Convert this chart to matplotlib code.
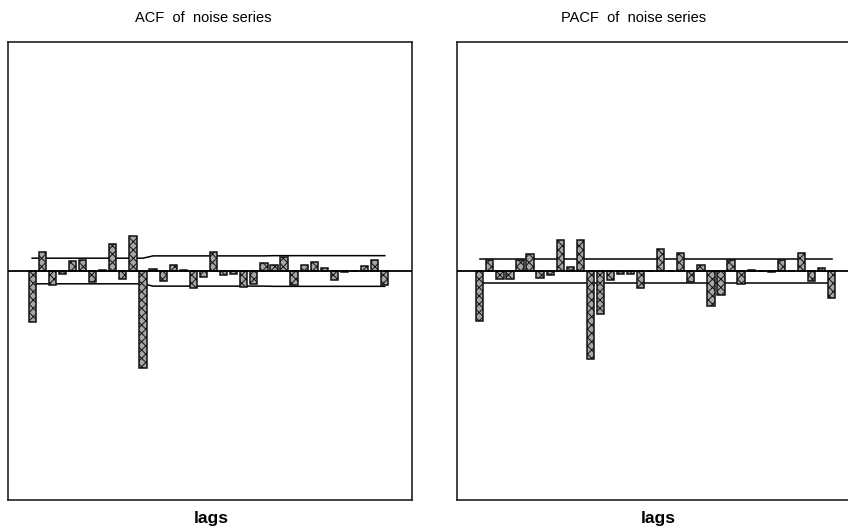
import matplotlib
matplotlib.use("Agg")
import matplotlib.pyplot as plt
import numpy as np

plt.rcParams['font.family'] = ['Liberation Sans', 'DejaVu Sans']
plt.rcParams['hatch.linewidth'] = 0.7

lags = list(range(1, 37))

acf_values = [-0.223, 0.083, -0.061, -0.013, 0.044, 0.050, -0.048, 0.004, 0.118, -0.037,
              0.153, -0.424, 0.009, -0.044, 0.026, 0.004, -0.074, -0.026, 0.083, -0.017,
              -0.015, -0.072, -0.055, 0.037, 0.028, 0.063, -0.063, 0.028, 0.039, 0.013,
              -0.041, -0.004, 0.000, 0.020, 0.050, -0.059]

acf_band = [0.056] * 12 + [0.066] * 12 + [0.067] * 12

pacf_values = [-0.218, 0.046, -0.035, -0.035, 0.048, 0.074, -0.031, -0.017, 0.135, 0.017,
               0.135, -0.384, -0.186, -0.039, -0.013, -0.011, -0.074, 0.002, 0.095, 0.002,
               0.079, -0.046, 0.028, -0.155, -0.105, 0.050, -0.055, 0.004, 0.000, -0.004,
               0.048, 0.000, 0.080, -0.042, 0.014, -0.116]

pacf_band = [0.053] * 36

titles = ["ACF  of  noise series", "PACF  of  noise series"]
xlabel = "lags"

fig = plt.figure(figsize=(8.48, 5.32), dpi=100)
W, H = 848.0, 532.0
ax1 = fig.add_axes([8 / W, 1 - 500 / H, 404 / W, 458 / H])
ax2 = fig.add_axes([457 / W, 1 - 500 / H, 404 / W, 458 / H])

def draw(ax, vals, band, xlim):
    ax.bar(lags, vals, width=0.72, facecolor='#a6a6a6', edgecolor='#111111',
           linewidth=1.1, hatch='xxxx', zorder=3)
    ax.axhline(0, color='black', linewidth=1.3, zorder=4)
    b = np.array(band)
    ax.plot(lags, b, color='black', linewidth=1.1, zorder=2)
    ax.plot(lags, -b, color='black', linewidth=1.1, zorder=2)
    ax.set_xlim(*xlim)
    ax.set_ylim(-1, 1)
    ax.set_xticks([])
    ax.set_yticks([])
    for s in ax.spines.values():
        s.set_linewidth(1.2)
        s.set_color('#222222')

draw(ax1, acf_values, acf_band, (-1.4, 38.7))
draw(ax2, pacf_values, pacf_band, (-1.27, 38.93))

fig.text(203 / W, 1 - 18 / H, titles[0], ha='center', va='center', fontsize=10.5)
fig.text(634 / W, 1 - 18 / H, titles[1], ha='center', va='center', fontsize=10.5)
fig.text(211 / W, 1 - 519 / H, xlabel, ha='center', va='center', fontsize=12.5, fontweight='bold')
fig.text(658 / W, 1 - 519 / H, xlabel, ha='center', va='center', fontsize=12.5, fontweight='bold')

fig.savefig("out.png", dpi=100)
